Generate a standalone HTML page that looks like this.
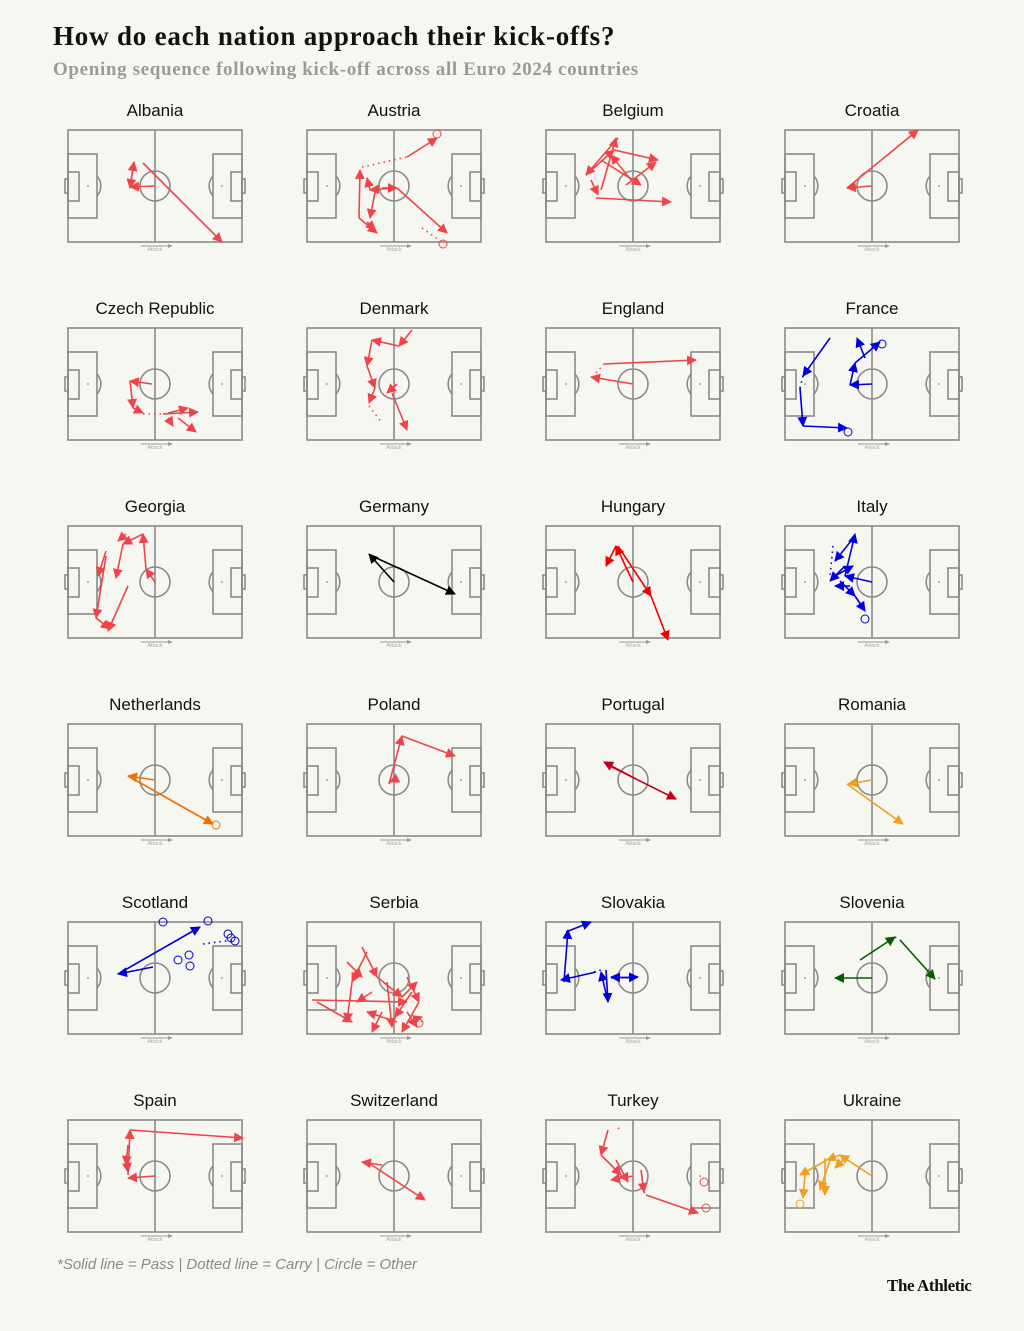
<!DOCTYPE html>
<html><head><meta charset="utf-8">
<style>
html,body{margin:0;padding:0;background:#f7f7f2;}
body{width:1024px;height:1331px;position:relative;overflow:hidden;font-family:"Liberation Sans",sans-serif;}
.t{position:absolute;left:53px;top:21px;font:bold 27px "Liberation Serif",serif;color:#111;letter-spacing:0.8px;white-space:nowrap}
.s{position:absolute;left:53px;top:59px;font:bold 19px "Liberation Serif",serif;color:#9a9a9a;letter-spacing:0.65px;white-space:nowrap}
.n{position:absolute;left:57px;top:1256px;font:italic 15px "Liberation Sans",sans-serif;color:#8a8a8a;white-space:nowrap}
.b{position:absolute;left:887px;top:1276px;font:bold 17px "Liberation Serif",serif;color:#111;letter-spacing:-0.4px;white-space:nowrap}
svg{position:absolute;left:0;top:0}
</style></head><body>
<div class="t">How do each nation approach their kick-offs?</div>
<div class="s">Opening sequence following kick-off across all Euro 2024 countries</div>
<div class="n">*Solid line = Pass | Dotted line = Carry | Circle = Other</div>
<div class="b">The Athletic</div>
<svg id="g" width="1024" height="1331" xmlns="http://www.w3.org/2000/svg"></svg>
<script>
var T=[
["Albania","#f04448",[[75,33,154,112],[87,56,62,57],[62,57,66,32],[66,32,62,58]],[],[]],
["Austria","#f04448",[[100,27,130,8],[90,58,140,103],[88,58,63,60],[63,60,60,48],[52,88,53,40],[68,62,63,88],[52,88,70,103],[60,92,68,100],[75,58,90,58]],[[55,37,100,27],[115,98,132,110]],[[130,4],[136,114]]],
["Belgium","#f04448",[[55,60,70,8],[72,8,40,45],[40,45,68,20],[68,20,112,30],[80,55,110,32],[85,50,65,25],[55,30,95,55],[45,50,52,65],[50,68,125,72]],[],[]],
["Croatia","#f04448",[[62,58,133,0],[87,56,62,58]],[],[]],
["Czech Republic","#f04448",[[84,56,62,53],[62,53,65,80],[65,80,75,85],[95,86,130,84],[110,90,128,104],[100,85,120,80],[100,90,105,98]],[[75,86,100,86]],[]],
["Denmark","#f04448",[[105,2,92,18],[92,18,65,12],[65,12,60,38],[60,38,68,60],[68,60,62,75],[90,56,80,65],[85,65,100,102]],[[62,78,75,95]],[]],
["England","#f04448",[[58,36,150,32],[87,56,45,49]],[[50,45,58,36]],[]],
["France","#0000dd",[[87,56,65,57],[65,57,70,35],[70,35,95,14],[45,10,18,48],[15,60,18,98],[18,98,62,100],[80,30,72,10]],[[18,48,15,60]],[[97,16],[63,104]]],
["Georgia","#f04448",[[87,56,78,43],[78,43,75,8],[75,8,55,18],[55,18,48,52],[60,60,40,105],[38,30,28,92],[28,92,42,103],[38,25,30,50],[58,8,50,15]],[],[]],
["Germany","#000000",[[87,56,62,28],[65,30,148,68]],[],[]],
["Hungary","#ee0000",[[87,56,70,20],[70,20,60,40],[72,20,105,70],[105,70,122,114]],[],[]],
["Italy","#0000dd",[[87,56,60,50],[60,50,70,8],[70,10,50,35],[55,55,70,70],[70,70,80,85],[60,40,45,55],[50,50,68,40],[65,60,50,60]],[[48,20,45,50]],[[80,93]]],
["Netherlands","#f07000",[[87,56,60,52],[60,52,145,100]],[],[[148,101]]],
["Poland","#f04448",[[82,60,95,12],[95,12,148,32],[87,56,83,58]],[],[]],
["Portugal","#c00018",[[60,40,130,75],[90,55,58,38]],[],[]],
["Romania","#f0a020",[[87,56,63,60],[62,60,118,100]],[],[]],
["Scotland","#0000cc",[[50,52,132,5],[85,45,50,52]],[[135,22,165,18]],[[95,0],[140,-1],[110,38],[121,33],[122,44],[160,12],[163,16],[167,19]]],
["Serbia","#f04448",[[60,30,45,60],[45,60,40,100],[55,25,70,55],[70,55,95,75],[95,75,110,60],[100,55,112,80],[112,80,95,110],[90,100,60,90],[5,78,100,80],[10,80,45,100],[80,60,85,105],[75,90,65,110],[100,90,110,105],[105,70,88,95],[40,40,55,55],[65,70,50,80],[100,100,115,95]],[[110,95,115,100]],[[112,101]]],
["Slovakia","#0000dd",[[20,10,45,0],[18,60,22,8],[50,50,15,58],[60,48,62,80],[62,80,55,50],[65,56,92,55],[88,56,65,55]],[[48,50,58,47]],[]],
["Slovenia","#006000",[[87,56,50,56],[75,38,110,15],[115,18,150,57]],[[110,15,115,18]],[]],
["Spain","#f04448",[[62,10,175,18],[60,55,62,10],[87,56,60,58],[58,35,60,52],[60,25,58,45]],[],[]],
["Switzerland","#f04448",[[60,42,118,80],[75,45,55,42]],[],[]],
["Turkey","#f04448",[[62,10,55,35],[55,35,75,55],[87,56,65,60],[95,50,98,72],[100,75,152,93],[70,40,82,62]],[[98,72,100,75],[72,8,76,10]],[[158,62],[160,88]]],
["Ukraine","#f0a020",[[87,56,55,35],[55,35,42,40],[42,40,15,55],[20,55,18,78],[40,38,40,75],[45,40,35,70],[60,38,50,48]],[],[[15,84]]]
];
var s='';var gc='#8a8a8a';
T.forEach(function(t,i){
 var x0=68+239*(i%4),y0=130+198*Math.floor(i/4),cx=x0+87;
 s+='<text x="'+cx+'" y="'+(y0-14)+'" text-anchor="middle" font-family="Liberation Sans,sans-serif" font-size="17" fill="#111">'+t[0]+'</text>';
 s+='<g fill="none" stroke="'+gc+'" stroke-width="1.6">';
 s+='<rect x="'+x0+'" y="'+y0+'" width="174" height="112"/>';
 s+='<line x1="'+cx+'" y1="'+y0+'" x2="'+cx+'" y2="'+(y0+112)+'"/>';
 s+='<circle cx="'+cx+'" cy="'+(y0+56)+'" r="15"/>';
 s+='<rect x="'+x0+'" y="'+(y0+24)+'" width="29" height="64"/><rect x="'+(x0+145)+'" y="'+(y0+24)+'" width="29" height="64"/>';
 s+='<rect x="'+x0+'" y="'+(y0+42)+'" width="11" height="29"/><rect x="'+(x0+163)+'" y="'+(y0+42)+'" width="11" height="29"/>';
 s+='<rect x="'+(x0-3)+'" y="'+(y0+49)+'" width="3" height="14"/><rect x="'+(x0+174)+'" y="'+(y0+49)+'" width="3" height="14"/>';
 s+='<path d="M'+(x0+29)+' '+(y0+46)+' A15 15 0 0 1 '+(x0+29)+' '+(y0+66)+'"/><path d="M'+(x0+145)+' '+(y0+46)+' A15 15 0 0 0 '+(x0+145)+' '+(y0+66)+'"/>';
 s+='</g>';
 s+='<circle cx="'+(x0+20)+'" cy="'+(y0+56)+'" r="0.9" fill="'+gc+'"/><circle cx="'+(x0+154)+'" cy="'+(y0+56)+'" r="0.9" fill="'+gc+'"/>';
 s+='<line x1="'+(cx-14)+'" y1="'+(y0+116)+'" x2="'+(cx+14)+'" y2="'+(y0+116)+'" stroke="#999" stroke-width="1"/><path d="M'+(cx+18)+' '+(y0+116)+' l-5 -2 v4z" fill="#999"/>';
 s+='<text x="'+cx+'" y="'+(y0+121)+'" text-anchor="middle" font-family="Liberation Sans,sans-serif" font-size="5.5" fill="#aaa">Attack</text>';
 var c=t[1];
 s+='<defs><marker id="m'+i+'" markerUnits="userSpaceOnUse" markerWidth="10" markerHeight="10" refX="9" refY="5" orient="auto"><path d="M0 0 L10 5 L0 10z" fill="'+c+'"/></marker></defs>';
 t[2].forEach(function(a){s+='<line x1="'+(x0+a[0])+'" y1="'+(y0+a[1])+'" x2="'+(x0+a[2])+'" y2="'+(y0+a[3])+'" stroke="'+c+'" stroke-width="1.6" marker-end="url(#m'+i+')"/>';});
 t[3].forEach(function(a){s+='<line x1="'+(x0+a[0])+'" y1="'+(y0+a[1])+'" x2="'+(x0+a[2])+'" y2="'+(y0+a[3])+'" stroke="'+c+'" stroke-width="1.6" stroke-dasharray="1.5 4"/>';});
 t[4].forEach(function(a){s+='<circle cx="'+(x0+a[0])+'" cy="'+(y0+a[1])+'" r="4" fill="none" stroke="'+c+'" stroke-width="1"/>';});
});
document.getElementById('g').innerHTML=s;
</script>
</body></html>
